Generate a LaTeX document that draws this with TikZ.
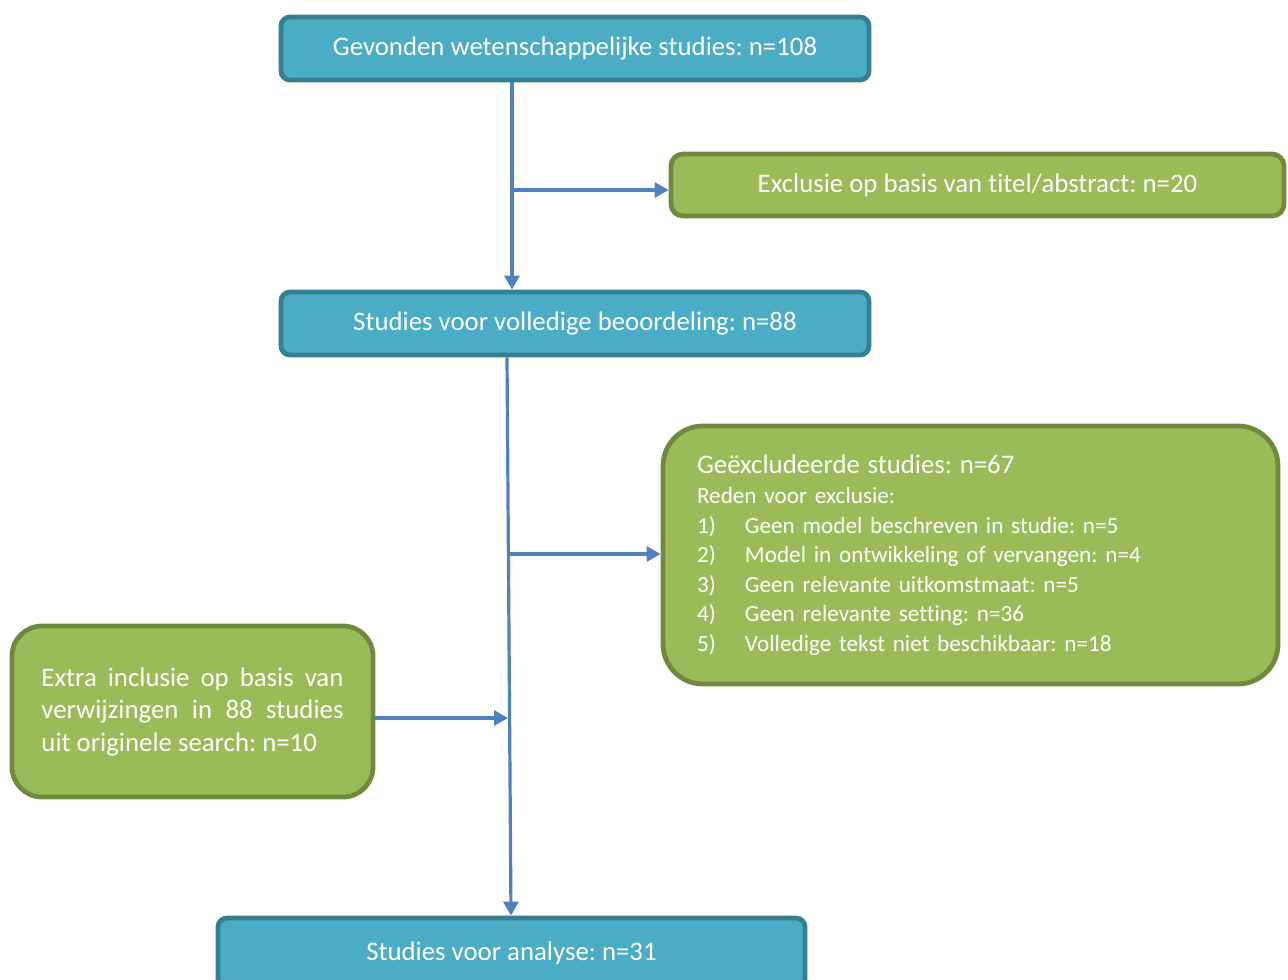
\documentclass[tikz,border=0pt]{standalone}
\usepackage{fontspec}
\setmainfont[Ligatures=NoCommon]{Carlito}
\usetikzlibrary{arrows.meta}
\definecolor{bfill}{HTML}{4BACC6}
\definecolor{bdraw}{HTML}{367F92}
\definecolor{gfill}{HTML}{9BBB59}
\definecolor{gdraw}{HTML}{71893F}
\definecolor{acol}{HTML}{4F81BD}
\frenchspacing
\begin{document}
\begin{tikzpicture}[x=1pt,y=-1pt,
  bluebox/.style={draw=bdraw, fill=bfill, line width=4.8pt, rounded corners=9pt, text=white, inner sep=0pt, font=\fontsize{26.8}{32}\selectfont},
  greenbox/.style={draw=gdraw, fill=gfill, line width=4.8pt, text=white, inner sep=0pt, font=\fontsize{26.8}{32}\selectfont},
  conn/.style={draw=acol, line width=3.2pt, -{Triangle[length=14pt,width=15pt]}}]
\useasboundingbox (0,0) rectangle (1288,980);
\clip (0,0) rectangle (1288,980);
\node[bluebox, minimum width=588pt, minimum height=63pt] (top) at (575,48.5) {Gevonden wetenschappelijke studies: n=108};
\node[greenbox, rounded corners=12pt, minimum width=613pt, minimum height=62pt] (excl) at (977.5,185) {Exclusie op basis van titel/abstract: n=20};
\node[bluebox, minimum width=588pt, minimum height=63pt] (mid) at (575,323.5) {Studies voor volledige beoordeling: n=88};
\node[greenbox, rounded corners=40pt, minimum width=615pt, minimum height=258pt, text width=547pt, align=left, font=\fontsize{23.2}{29.5}\selectfont] (geex) at (970.5,555) {%
  {\fontsize{26.8}{29.5}\selectfont Geëxcludeerde studies: n=67}\\[0.5pt]
  Reden voor exclusie:\\
  \makebox[48pt][l]{1)}Geen model beschreven in studie: n=5\\
  \makebox[48pt][l]{2)}Model in ontwikkeling of vervangen: n=4\\
  \makebox[48pt][l]{3)}Geen relevante uitkomstmaat: n=5\\
  \makebox[48pt][l]{4)}Geen relevante setting: n=36\\
  \makebox[48pt][l]{5)}Volledige tekst niet beschikbaar: n=18};
\node[greenbox, rounded corners=30pt, minimum width=361pt, minimum height=171pt] (extra) at (192.5,711.5) {%
  \parbox{302pt}{\fontsize{26.8}{32.5}\selectfont\hyphenpenalty=10000 Extra inclusie op basis van\linebreak verwijzingen in 88 studies\linebreak uit originele search: n=10}};
\node[bluebox, minimum width=587pt, minimum height=70pt] (bot) at (511.5,953) {\raisebox{4pt}{Studies voor analyse: n=31}};
\coordinate (c1) at (512,0);
\coordinate (c2) at (507,0);
\coordinate (c3) at (511,0);
\coordinate (b1) at (512,190);
\coordinate (b2) at (509,554);
\coordinate (b3) at (508,718);
\draw[conn] (top.south -| c1) -- (mid.north -| c1);
\draw[conn] (b1) -- (b1 -| excl.west);
\draw[conn] (mid.south -| c2) -- (bot.north -| c3);
\draw[conn] (b2) -- (b2 -| geex.west);
\draw[conn] (b3 -| extra.east) -- (b3);
\end{tikzpicture}
\end{document}
